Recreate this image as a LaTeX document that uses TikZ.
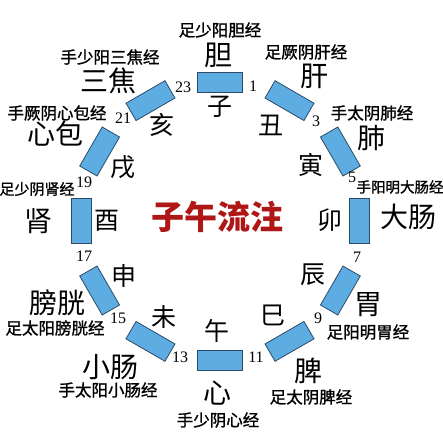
\documentclass[tikz,border=0pt]{standalone}
\usepackage{fontspec}
\setmainfont{Liberation Serif}
\newfontfamily\cjk{Noto Sans CJK SC}
\newfontfamily\cjkmed[FakeBold=1.2]{Noto Sans CJK SC}
\usetikzlibrary{calc}
\definecolor{rectblue}{RGB}{93,172,226}
\definecolor{rectedge}{RGB}{45,75,105}
\definecolor{titlered}{RGB}{175,22,22}
\tikzset{
  rectbox/.style={draw=rectedge, fill=rectblue, line width=0.8pt, minimum width=45pt, minimum height=20pt, inner sep=0pt},
  branch/.style={font=\cjk\fontsize{25}{25}\selectfont, inner sep=0pt},
  organ/.style={font=\cjk\fontsize{28}{28}\selectfont, inner sep=0pt},
  meridian/.style={font=\cjkmed\fontsize{16.5}{16.5}\selectfont, inner sep=0pt},
  hournum/.style={font=\fontsize{16}{16}\selectfont, inner sep=0pt},
  titletext/.style={font=\cjk\bfseries\fontsize{33}{33}\selectfont, text=titlered, inner sep=0pt}
}
\begin{document}
\begin{tikzpicture}[x=1pt,y=-1pt]
\useasboundingbox[fill=white] (0,0) rectangle (443,437);
% rectangles
\foreach \k in {0,...,11} {
  \pgfmathsetmacro\ang{90-30*\k}
  \pgfmathsetmacro\rot{\ang-90}
  \node[rectbox, rotate=\rot] (r\k) at ({220+139*cos(\ang)},{221-139*sin(\ang)}) {};
}
% title
\node[titletext] (title) at (217,217) {子午流注};
% branches
\node[branch] (b0) at (220,107) {子};
\node[branch] (b1) at (271,125) {丑};
\node[branch] (b2) at (311,165) {寅};
\node[branch] (b3) at (330,220) {卯};
\node[branch] (b4) at (313,275) {辰};
\node[branch] (b5) at (273,315) {巳};
\node[branch] (b6) at (217,331) {午};
\node[branch] (b7) at (164,317) {未};
\node[branch] (b8) at (124,276) {申};
\node[branch] (b9) at (107,221) {酉};
\node[branch] (b10) at (123,167) {戌};
\node[branch] (b11) at (162,125) {亥};
% organs
\node[organ] (o0) at (218,55) {胆};
\node[organ] (o1) at (314,76) {肝};
\node[organ] (o2) at (371,138) {肺};
\node[organ] (o3) at (408,217) {大肠};
\node[organ] (o4) at (368,305) {胃};
\node[organ] (o5) at (308,371) {脾};
\node[organ] (o6) at (217,393) {心};
\node[organ] (o7) at (110,367) {小肠};
\node[organ] (o8) at (57,303) {膀胱};
\node[organ] (o9) at (38,221) {肾};
\node[organ] (o10) at (55,134) {心包};
\node[organ] (o11) at (108,81) {三焦};
% meridians
\node[meridian] (m0) at (220,30) {足少阳胆经};
\node[meridian] (m1) at (306,52) {足厥阴肝经};
\node[meridian] (m2) at (372,113) {手太阴肺经};
\node[meridian, font=\cjkmed\fontsize{14.5}{14.5}\selectfont] (m3) at (400,187) {手阳明大肠经};
\node[meridian] (m4) at (368,332) {足阳明胃经};
\node[meridian] (m5) at (311,397) {足太阴脾经};
\node[meridian] (m6) at (218,420) {手少阴心经};
\node[meridian] (m7) at (108,390) {手太阳小肠经};
\node[meridian] (m8) at (55,328) {足太阳膀胱经};
\node[meridian, font=\cjkmed\fontsize{15}{15}\selectfont] (m9) at (37,189) {足少阴肾经};
\node[meridian] (m10) at (57,113) {手厥阴心包经};
\node[meridian] (m11) at (110,57) {手少阳三焦经};
% hour numbers
\node[hournum] (n23) at (183,87) {23};
\node[hournum] (n1) at (253,86) {1};
\node[hournum] (n3) at (316,121) {3};
\node[hournum] (n5) at (352,177) {5};
\node[hournum] (n7) at (357,257) {7};
\node[hournum] (n9) at (318,318) {9};
\node[hournum] (n11) at (256,357) {11};
\node[hournum] (n13) at (180,357) {13};
\node[hournum] (n15) at (118,318) {15};
\node[hournum] (n17) at (84,256) {17};
\node[hournum] (n19) at (84,182) {19};
\node[hournum] (n21) at (123,118) {21};
\end{tikzpicture}
\end{document}
